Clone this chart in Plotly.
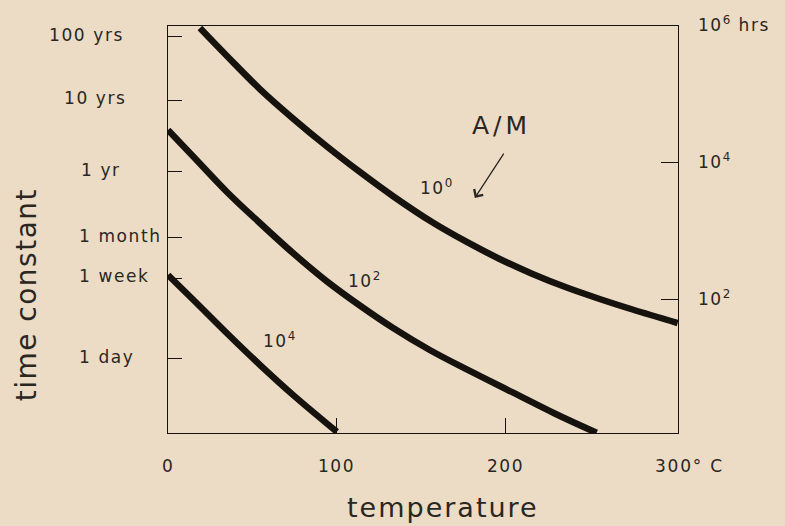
import math
import plotly.graph_objects as go

# ---- data ----
temp_am1 = [18.9, 34.9, 54.4, 74.0, 94.1, 113.6, 133.1, 156.8, 176.9, 196.4, 215.9, 236.1, 255.6, 275.1, 301.8]
hrs_am1 = [935000, 365000, 120000, 44700, 17400, 7400, 3300, 1350, 703, 397, 240, 152, 103.5, 72.6, 46.1]

temp_am2 = [0, 14.8, 34.9, 54.4, 74.0, 94.1, 113.6, 133.1, 155.0, 178.7, 204.1, 229.0, 253.8]
hrs_am2 = [30300, 12560, 3780, 1330, 485, 187, 83, 39.3, 18.6, 9.2, 4.47, 2.20, 1.15]

temp_am3 = [0, 14.8, 34.9, 54.4, 74.0, 100]
hrs_am3 = [232, 101.6, 32.7, 11.3, 4.12, 1.19]

curve_labels = ["10<sup>0</sup>", "10<sup>2</sup>", "10<sup>4</sup>"]

left_tick_hours = [692000, 83000, 7400, 810, 209, 13.8]
left_tick_text = ["100 yrs", "10 yrs", "1 yr", "1 month", "1 week", "1 day"]

right_tick_hours = [100, 10000]
right_tick_text = ["10<sup>2</sup>", "10<sup>4</sup>", "10<sup>6</sup> hrs"]
right_label_hours = [100, 10000, 1000000]

x_tick_vals = [100, 200]
x_label_vals = [0, 100, 200]
x_label_text = ["0", "100", "200"]

# ---- styling ----
BG = "#ECDCC5"
INK = "#16120e"
TXT = "#2a2622"
FONT = "DejaVu Sans"


def spaced(t, px):
    return '<span style="letter-spacing:%spx">%s</span>' % (px, t)


fig = go.Figure()
for xs, ys in [(temp_am1, hrs_am1), (temp_am2, hrs_am2), (temp_am3, hrs_am3)]:
    fig.add_trace(go.Scatter(x=xs, y=ys, mode="lines",
                             line=dict(color=INK, width=6.5, shape="spline", smoothing=1.0),
                             hoverinfo="skip", showlegend=False))
# invisible trace to carry the right axis
fig.add_trace(go.Scatter(x=[temp_am1[0]], y=[hrs_am1[0]], yaxis="y2", mode="markers",
                         marker=dict(opacity=0), showlegend=False, hoverinfo="skip"))

ylog_range = [0.058, 6.0]
fig.update_layout(
    width=785, height=526,
    margin=dict(l=168, r=107, t=26, b=93),
    paper_bgcolor=BG, plot_bgcolor=BG,
    font=dict(family=FONT, color=TXT, size=17),
    xaxis=dict(range=[0, 302], showgrid=False, zeroline=False, showline=True, mirror=True,
               linecolor=INK, linewidth=1, tickvals=x_tick_vals, ticks="inside", ticklen=15,
               tickcolor=INK, showticklabels=False),
    yaxis=dict(type="log", range=ylog_range, showgrid=False, zeroline=False, showline=True, mirror=True,
               linecolor=INK, linewidth=1, tickvals=left_tick_hours, ticks="inside", ticklen=14,
               tickcolor=INK, showticklabels=False),
    yaxis2=dict(type="log", range=ylog_range, overlaying="y", side="right", showgrid=False, zeroline=False,
                showline=False, tickvals=right_tick_hours, ticks="inside", ticklen=17, tickcolor=INK,
                showticklabels=False),
)


def ly(h):
    # annotation positions on a log axis are given in log10 units
    return math.log10(h)


# left tick labels
left_label_x = [-0.237, -0.208, -0.175, -0.178, -0.178, -0.178]
for hv, t, px in zip(left_tick_hours, left_tick_text, left_label_x):
    fig.add_annotation(x=px, xref="paper", y=ly(hv), yref="y", text=spaced(t, 1.6), showarrow=False,
                       xanchor="left", yanchor="middle", yshift=2, font=dict(size=17))

# right tick labels
for hv, t in zip(right_label_hours, right_tick_text):
    fig.add_annotation(x=1.036, xref="paper", y=ly(hv), yref="y", text=spaced(t, 1.5), showarrow=False,
                       xanchor="left", yanchor="middle", yshift=2, font=dict(size=17))

# x tick labels
for xv, t in zip(x_label_vals, x_label_text):
    fig.add_annotation(x=xv, xref="x", y=-0.081, yref="paper", text=spaced(t, 1.5), showarrow=False,
                       xanchor="center", yanchor="middle", font=dict(size=17))
fig.add_annotation(x=287, xref="x", y=-0.081, yref="paper", text=spaced("300° C", 1.8), showarrow=False,
                   xanchor="left", yanchor="middle", font=dict(size=17))

# curve labels
label_pos = [(159, 4470), (116.6, 195), (66.3, 26)]
for (lx, lyv), t in zip(label_pos, curve_labels):
    fig.add_annotation(x=lx, y=ly(lyv), text=spaced(t, 1.5), showarrow=False, font=dict(size=17))

fig.add_annotation(x=197.6, y=ly(35500), text=spaced("A/M", 4), showarrow=False, font=dict(size=25))
fig.add_annotation(x=181.7, y=ly(3090), ax=199.4, ay=ly(14450), axref="x", ayref="y", xref="x", yref="y",
                   text="", showarrow=True, arrowhead=4, arrowsize=1.6, arrowwidth=1.3, arrowcolor=TXT)

# axis titles
fig.add_annotation(x=-0.277, xref="paper", y=0.34, yref="paper", text=spaced("time constant", 1.5),
                   textangle=-90, showarrow=False, font=dict(size=28), xanchor="center", yanchor="middle")
fig.add_annotation(x=0.54, xref="paper", y=-0.184, yref="paper", text=spaced("temperature", 2),
                   showarrow=False, font=dict(size=27), xanchor="center", yanchor="middle")

fig.write_html("out.html", config={"displayModeBar": False},
               post_script="document.body.style.margin='0';document.body.style.overflow='hidden';")
